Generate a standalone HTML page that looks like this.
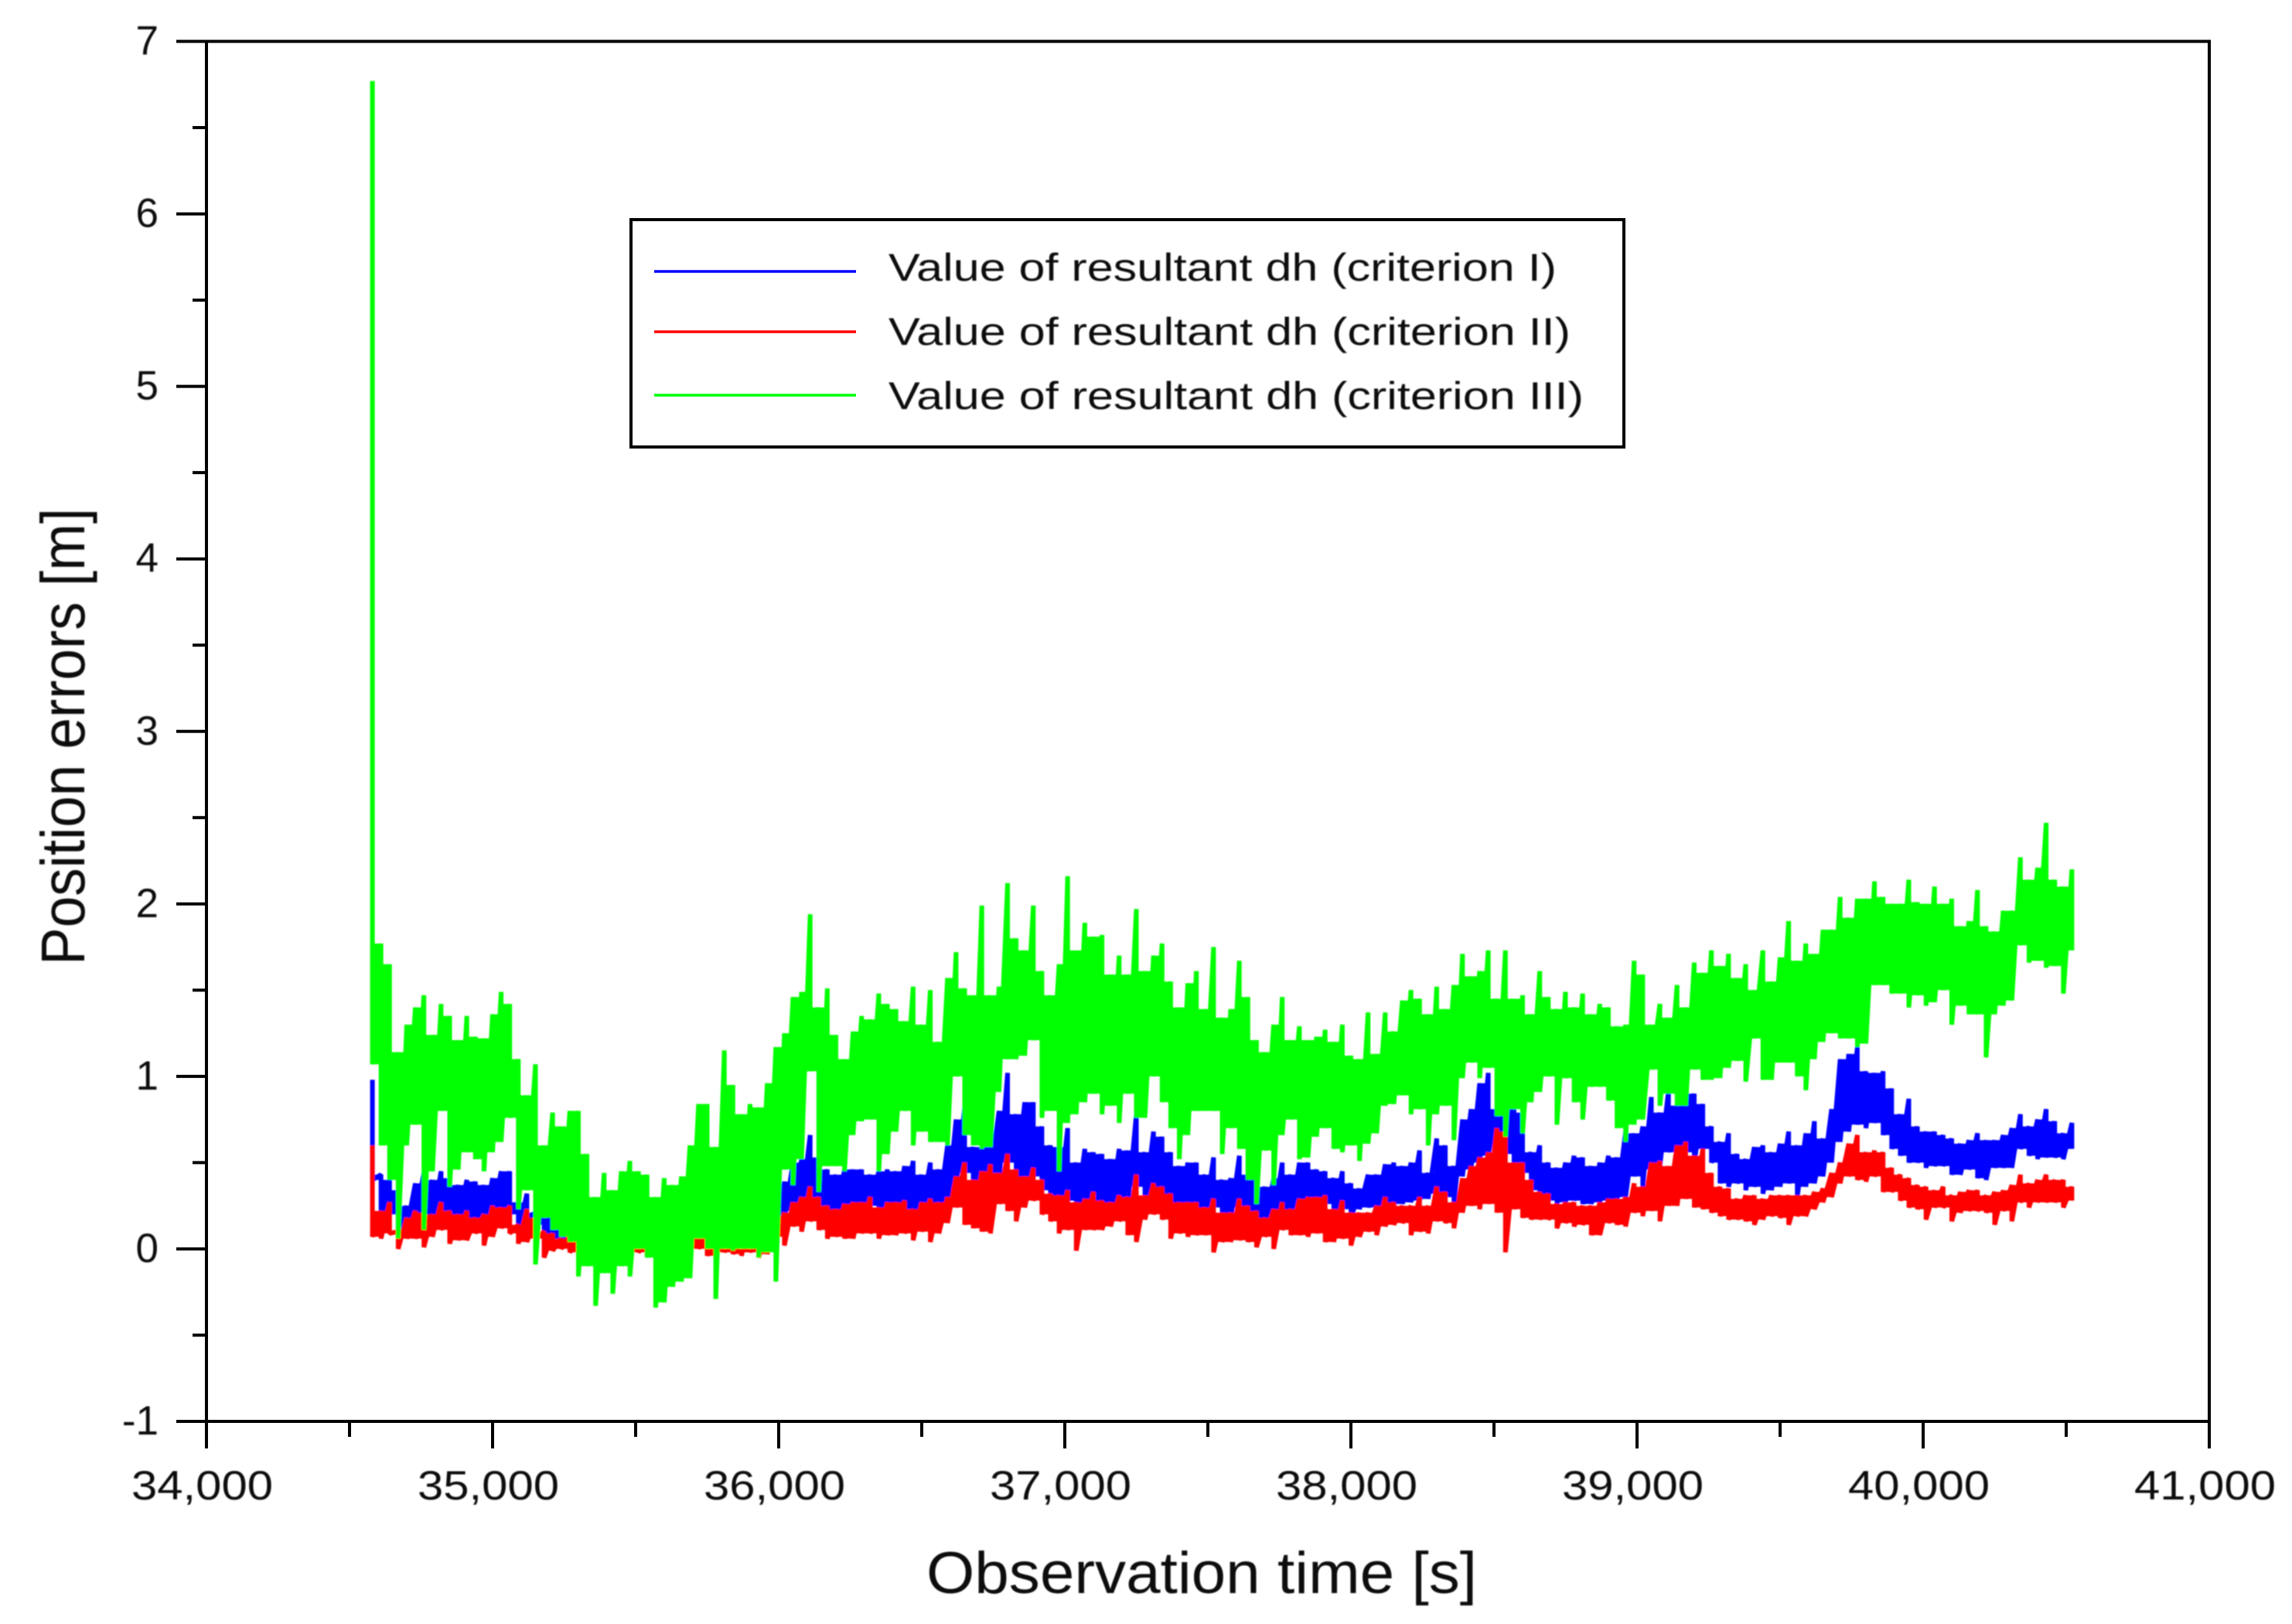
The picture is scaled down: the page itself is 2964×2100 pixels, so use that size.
<!DOCTYPE html>
<html lang="en">
<head>
<meta charset="utf-8">
<title>Position errors over observation time</title>
<style>
html,body{margin:0;padding:0;background:#fff;width:2964px;height:2100px;overflow:hidden}
svg{display:block}
text{font-family:"Liberation Sans",Arial,sans-serif;fill:#0a0a0a}
</style>
</head>
<body>
<svg id="chart" xmlns="http://www.w3.org/2000/svg" width="2964" height="2100" viewBox="0 0 2964 2100">
  <defs>
    <filter id="soft" x="-5%" y="-5%" width="110%" height="110%"><feGaussianBlur stdDeviation="0.8"/></filter>
    <filter id="softText" x="-5%" y="-5%" width="110%" height="110%"><feGaussianBlur stdDeviation="0.9"/></filter>
  </defs>
  <rect x="0" y="0" width="2964" height="2100" fill="#ffffff"/>
  <g id="series" filter="url(#soft)"></g>
  <g id="axes"></g>
  <g id="tickLabels" filter="url(#softText)"></g>
  <text x="1198" y="2060" font-size="76" textLength="712" lengthAdjust="spacingAndGlyphs" filter="url(#softText)">Observation time [s]</text>
  <text transform="translate(109,1248) rotate(-90)" x="0" y="0" font-size="80" textLength="591" lengthAdjust="spacingAndGlyphs" filter="url(#softText)">Position errors [m]</text>
  <g>
    <rect x="816" y="284" width="1284" height="294" fill="#ffffff" stroke="#000000" stroke-width="4"/>
    <line x1="846" y1="351" x2="1107" y2="351" stroke="#0000ff" stroke-width="3.5"/>
    <line x1="846" y1="429" x2="1107" y2="429" stroke="#ff0000" stroke-width="3.5"/>
    <line x1="846" y1="511" x2="1107" y2="511" stroke="#00ff00" stroke-width="3.5"/>
    <g filter="url(#softText)">
      <text x="1149" y="363" font-size="50" textLength="864" lengthAdjust="spacingAndGlyphs">Value of resultant dh (criterion I)</text>
      <text x="1149" y="446" font-size="50" textLength="882" lengthAdjust="spacingAndGlyphs">Value of resultant dh (criterion II)</text>
      <text x="1149" y="529" font-size="50" textLength="899" lengthAdjust="spacingAndGlyphs">Value of resultant dh (criterion III)</text>
    </g>
  </g>
</svg>
<script>
const xTickValues = [34000,35000,36000,37000,38000,39000,40000,41000];
const xTickLabels = ["34,000","35,000","36,000","37,000","38,000","39,000","40,000","41,000"];
const xMinorValues = [34500,35500,36500,37500,38500,39500,40500];
const yTickValues = [-1,0,1,2,3,4,5,6,7];
const yTickLabels = ["-1","0","1","2","3","4","5","6","7"];
const yMinorValues = [-0.5,0.5,1.5,2.5,3.5,4.5,5.5,6.5];
const sampleStart = 34580;
const sampleStep = 30;

const blueHigh = [
.98,.43,.40,.34,.25,.38,.44,.40,.45,.41,.37,.40,.39,.37,.41,.45,.45,.27,.32,.21,
.20,.25,.20,.22,.20,.18,.18,.17,.18,.20,.18,.17,.18,.17,.20,.18,.20,.22,.24,.24,
.20,.26,.24,.25,.30,.28,.30,.37,.39,.50,.52,.66,.53,.46,.43,.46,.46,.46,.43,.45,
.46,.45,.48,.51,.43,.50,.46,.60,.75,.82,.59,.59,.60,.80,1.02,.78,.85,.85,.71,.60,
.59,.70,.50,.58,.56,.55,.52,.58,.57,.78,.56,.68,.65,.56,.48,.50,.50,.43,.53,.40,
.41,.54,.43,.41,.36,.41,.50,.43,.50,.50,.46,.45,.41,.45,.38,.35,.43,.43,.49,.50,
.48,.50,.57,.44,.64,.60,.48,.75,.81,.96,1.02,.81,.80,.89,.79,.56,.60,.50,.47,.50,
.54,.53,.48,.50,.54,.53,.68,.67,.71,.88,.79,.92,.83,.94,.90,.84,.71,.62,.67,.55,
.52,.59,.60,.56,.61,.68,.60,.67,.74,.64,.81,1.10,1.13,1.17,1.03,1.02,1.03,.93,.78,.87,
.71,.68,.68,.66,.64,.61,.63,.67,.63,.63,.66,.70,.78,.71,.75,.81,.74,.67,.73];
const blueLow = [
.40,.16,.20,.08,.12,.18,.17,.16,.22,.18,.16,.18,.14,.16,.20,.20,.20,.10,.18,.14,
.06,.06,.04,.05,.03,.04,.02,.03,.04,.03,.02,.04,.03,.03,.05,.04,.07,.09,.12,.11,
.09,.11,.09,.08,.16,.09,.09,.14,.17,.22,.25,.30,.25,.20,.18,.21,.22,.22,.25,.20,
.22,.22,.23,.18,.22,.24,.22,.25,.36,.44,.34,.40,.44,.38,.50,.40,.36,.42,.34,.27,
.26,.28,.22,.24,.28,.23,.22,.26,.25,.36,.26,.32,.30,.26,.22,.22,.22,.19,.24,.17,
.17,.24,.20,.17,.14,.18,.22,.18,.24,.25,.25,.26,.19,.23,.17,.23,.24,.22,.25,.25,
.26,.27,.28,.29,.32,.30,.26,.42,.46,.50,.54,.62,.55,.50,.44,.34,.30,.28,.26,.27,
.28,.26,.26,.27,.28,.28,.30,.42,.36,.46,.48,.56,.52,.56,.50,.58,.50,.38,.36,.38,
.34,.36,.32,.34,.36,.38,.30,.36,.38,.42,.50,.62,.68,.72,.70,.73,.66,.58,.54,.50,
.50,.47,.48,.48,.43,.43,.46,.41,.40,.47,.47,.47,.58,.54,.52,.53,.53,.52,.58];
const redHigh = [
.60,.22,.27,.10,.18,.22,.21,.20,.27,.22,.20,.22,.18,.20,.25,.24,.25,.14,.23,.18,
.10,.09,.06,.08,.05,.06,.04,.05,.06,.05,.04,.06,.05,.05,.07,.06,.10,.12,.16,.15,
.12,.15,.13,.11,.21,.12,.12,.18,.21,.27,.30,.36,.30,.25,.23,.26,.27,.27,.30,.24,
.27,.27,.28,.23,.27,.29,.27,.30,.42,.50,.40,.45,.49,.44,.55,.46,.42,.47,.40,.32,
.31,.34,.27,.29,.33,.28,.27,.31,.30,.43,.31,.38,.36,.32,.27,.27,.27,.24,.29,.21,
.21,.29,.25,.22,.18,.23,.27,.23,.29,.30,.30,.31,.23,.28,.21,.21,.21,.25,.30,.27,
.25,.25,.30,.25,.36,.33,.27,.41,.48,.53,.56,.70,.68,.50,.50,.40,.33,.32,.26,.27,
.27,.25,.25,.27,.29,.29,.30,.38,.36,.50,.51,.48,.60,.62,.54,.58,.44,.36,.35,.29,
.31,.31,.29,.31,.31,.31,.31,.31,.33,.35,.44,.50,.61,.66,.56,.57,.56,.47,.43,.41,
.37,.36,.34,.36,.31,.33,.34,.34,.31,.33,.34,.37,.43,.38,.40,.43,.40,.40,.36];
const redLow = [
.07,.06,.09,.00,.06,.06,.01,.07,.11,.03,.05,.05,.09,.02,.07,.12,.09,.03,.04,.06,
-.05,-.01,.00,-.02,-.03,-.01,-.04,-.02,-.03,-.02,-.03,-.02,-.04,-.03,-.02,-.03,-.01,-.02,.00,-.04,
-.05,-.02,-.03,-.04,-.02,-.05,-.03,.07,.02,.13,.10,.16,.11,.06,.07,.06,.06,.09,.09,.06,
.08,.08,.09,.05,.10,.04,.09,.15,.24,.14,.12,.10,.09,.26,.22,.16,.24,.28,.20,.16,
.09,.11,-.01,.11,.11,.11,.13,.16,.08,.04,.17,.20,.17,.06,.09,.07,.08,.08,-.02,.04,
.04,.05,.04,.01,.07,.00,.11,.08,.08,.07,.09,.04,.04,.06,.02,.07,.10,.08,.13,.14,
.15,.08,.10,.09,.16,.15,.12,.21,.25,.23,.26,.21,-.02,.23,.18,.17,.17,.17,.12,.15,
.13,.14,.08,.08,.15,.14,.13,.21,.19,.22,.16,.25,.25,.29,.24,.23,.21,.19,.17,.17,
.16,.14,.17,.19,.18,.14,.19,.19,.23,.27,.30,.38,.42,.40,.39,.42,.33,.33,.28,.24,
.23,.17,.24,.24,.16,.21,.22,.22,.21,.14,.22,.16,.27,.24,.27,.27,.27,.24,.28];
const greenHigh = [
6.77,1.77,1.65,1.14,1.30,1.40,1.47,1.24,1.42,1.35,1.21,1.35,1.23,1.22,1.36,1.49,1.42,1.10,.89,1.07,
.60,.79,.71,.80,.80,.55,.30,.44,.34,.45,.51,.45,.43,.30,.41,.37,.42,.60,.84,.84,
.59,1.15,.95,.78,.84,.82,.96,1.17,1.25,1.46,1.49,1.94,1.40,1.51,1.24,1.10,1.26,1.35,1.33,1.48,
1.42,1.39,1.32,1.52,1.30,1.50,1.20,1.57,1.72,1.51,1.47,1.99,1.47,1.52,2.12,1.80,1.73,1.99,1.61,1.47,
1.65,2.16,1.73,1.89,1.81,1.82,1.59,1.70,1.59,1.97,1.61,1.70,1.77,1.55,1.40,1.54,1.61,1.39,1.75,1.34,
1.39,1.67,1.46,1.21,1.14,1.30,1.46,1.21,1.29,1.21,1.23,1.27,1.20,1.30,1.12,1.10,1.37,1.13,1.37,1.26,
1.44,1.50,1.45,1.36,1.52,1.39,1.53,1.71,1.58,1.61,1.73,1.45,1.73,1.45,1.47,1.36,1.61,1.46,1.39,1.49,
1.40,1.48,1.36,1.42,1.40,1.29,1.30,1.67,1.59,1.30,1.42,1.34,1.53,1.40,1.66,1.60,1.73,1.64,1.71,1.57,
1.65,1.50,1.73,1.55,1.69,1.90,1.67,1.77,1.71,1.85,1.85,2.04,1.92,2.03,2.03,2.13,2.04,2.00,2.00,2.14,
2.01,2.00,2.10,2.00,2.03,1.87,1.90,2.08,1.87,1.84,1.96,1.96,2.27,2.14,2.21,2.47,2.14,2.10,2.20];
const greenLow = [
1.07,.60,.40,.06,.60,.72,.11,.45,.80,.36,.46,.56,.52,.45,.56,.62,.76,.23,.34,-.09,
.18,.11,.07,.04,-.16,-.10,-.33,-.14,-.26,-.10,-.16,.00,-.05,-.34,-.31,-.22,-.19,-.17,.06,.00,
-.29,.00,-.01,.00,.00,-.05,-.02,-.19,.46,.37,.52,1.03,.33,.48,.48,.45,.66,.74,.75,.45,
.55,.68,.80,.60,.68,.62,.62,.60,1.00,.66,.60,.58,.59,.91,1.10,1.10,1.12,1.21,.76,.80,
.45,.73,.78,.85,.90,.78,.83,.73,.90,.76,.76,1.00,.85,.70,.52,.66,.80,.80,.80,.55,
.70,.58,.40,.26,.57,.37,.66,.75,.52,.53,.65,.70,.58,.56,.60,.51,.61,.67,.83,.84,
.89,.78,.81,.60,.78,.83,.63,.99,1.08,.99,1.05,.77,.65,.81,.67,.85,.91,1.00,.72,.99,
.85,.75,.94,.94,.86,.70,.62,.72,.75,1.04,.83,.90,.83,.83,1.04,.98,.98,.99,1.05,1.09,
.97,1.22,.98,.98,1.08,1.08,1.00,.92,1.10,1.20,1.25,1.22,1.22,1.17,1.19,1.53,1.53,1.48,1.48,1.40,
1.47,1.41,1.43,1.50,1.30,1.41,1.36,1.36,1.11,1.36,1.41,1.44,1.76,1.66,1.67,1.63,1.64,1.48,1.73];

const NS = "http://www.w3.org/2000/svg";
const plotLeft = 267, plotRight = 2857, plotTop = 53.5, plotBottom = 1838;
const xMin = 34000, xMax = 41000, yMin = -1, yMax = 7;
function xScale(v){ return plotLeft + (v - xMin) * (plotRight - plotLeft) / (xMax - xMin); }
function yScale(v){ return plotBottom - (v - yMin) * (plotBottom - plotTop) / (yMax - yMin); }

/* Vertical high/low sweep at each sample: the noise line itself. */
function bandPoints(high, low){
  const pts = [];
  for (let i = 0; i < high.length; i++){
    const x = xScale(sampleStart + i * sampleStep).toFixed(1);
    pts.push(x + "," + yScale(high[i]).toFixed(1));
    pts.push(x + "," + yScale(low[i]).toFixed(1));
  }
  return pts.join(" ");
}
/* Solid core between neighbouring samples: overlap of their high/low ranges. */
function corePath(high, low){
  let d = "";
  for (let i = 0; i < high.length - 1; i++){
    const top = Math.min(high[i], high[i + 1]);
    const bottom = Math.max(low[i], low[i + 1]);
    if (top <= bottom) continue;
    const x0 = xScale(sampleStart + i * sampleStep).toFixed(1);
    const x1 = xScale(sampleStart + (i + 1) * sampleStep).toFixed(1);
    const y0 = yScale(top).toFixed(1);
    const y1 = yScale(bottom).toFixed(1);
    d += "M" + x0 + " " + y0 + "H" + x1 + "V" + y1 + "H" + x0 + "Z";
  }
  return d;
}
function makeLine(parent, x1, y1, x2, y2, width){
  const el = document.createElementNS(NS, "line");
  el.setAttribute("x1", x1);
  el.setAttribute("y1", y1);
  el.setAttribute("x2", x2);
  el.setAttribute("y2", y2);
  el.setAttribute("stroke", "#000000");
  el.setAttribute("stroke-width", width);
  parent.appendChild(el);
  return el;
}

const seriesGroup = document.getElementById("series");
const axesGroup = document.getElementById("axes");
const labelGroup = document.getElementById("tickLabels");

const blueCore = document.createElementNS(NS, "path");


blueCore.setAttribute("d", corePath(blueHigh, blueLow));
blueCore.setAttribute("fill", "#0000ff");
seriesGroup.appendChild(blueCore);

const blueLine = document.createElementNS(NS, "polyline");


blueLine.setAttribute("points", bandPoints(blueHigh, blueLow));
blueLine.setAttribute("fill", "none");
blueLine.setAttribute("stroke", "#0000ff");
blueLine.setAttribute("stroke-width", "6");
blueLine.setAttribute("stroke-linejoin", "bevel");
seriesGroup.appendChild(blueLine);

const redCore = document.createElementNS(NS, "path");


redCore.setAttribute("d", corePath(redHigh, redLow));
redCore.setAttribute("fill", "#ff0000");
seriesGroup.appendChild(redCore);

const redLine = document.createElementNS(NS, "polyline");


redLine.setAttribute("points", bandPoints(redHigh, redLow));
redLine.setAttribute("fill", "none");
redLine.setAttribute("stroke", "#ff0000");
redLine.setAttribute("stroke-width", "6");
redLine.setAttribute("stroke-linejoin", "bevel");
seriesGroup.appendChild(redLine);

const greenCore = document.createElementNS(NS, "path");


greenCore.setAttribute("d", corePath(greenHigh, greenLow));
greenCore.setAttribute("fill", "#00ff00");
seriesGroup.appendChild(greenCore);

const greenLine = document.createElementNS(NS, "polyline");


greenLine.setAttribute("points", bandPoints(greenHigh, greenLow));
greenLine.setAttribute("fill", "none");
greenLine.setAttribute("stroke", "#00ff00");
greenLine.setAttribute("stroke-width", "6");
greenLine.setAttribute("stroke-linejoin", "bevel");
seriesGroup.appendChild(greenLine);

const leftAxis = makeLine(axesGroup, plotLeft, plotTop, plotLeft, plotBottom, 4);


const bottomAxis = makeLine(axesGroup, plotLeft, plotBottom, plotRight, plotBottom, 4);


const topFrame = makeLine(axesGroup, plotLeft, plotTop, plotRight + 2, plotTop, 4);


const rightFrame = makeLine(axesGroup, plotRight, plotTop, plotRight, plotBottom, 4);



xTickValues.forEach(function(v, i){
  const tick = makeLine(axesGroup, xScale(v), plotBottom, xScale(v), plotBottom + 35, 4);
  
  
  const label = document.createElementNS(NS, "text");
  
  
  label.setAttribute("x", xScale(v) - 97);
  label.setAttribute("y", 1939);
  label.setAttribute("font-size", "53");
  label.setAttribute("textLength", "183");
  label.setAttribute("lengthAdjust", "spacingAndGlyphs");
  label.textContent = xTickLabels[i];
  labelGroup.appendChild(label);
});
xMinorValues.forEach(function(v){
  const tick = makeLine(axesGroup, xScale(v), plotBottom, xScale(v), plotBottom + 20, 4);
  
  
});
yTickValues.forEach(function(v, i){
  const tick = makeLine(axesGroup, plotLeft - 39, yScale(v), plotLeft, yScale(v), 4);
  
  
  const label = document.createElementNS(NS, "text");
  
  
  label.setAttribute("x", 205);
  label.setAttribute("y", yScale(v) + 17);
  label.setAttribute("font-size", "53");
  label.setAttribute("text-anchor", "end");
  label.textContent = yTickLabels[i];
  labelGroup.appendChild(label);
});
yMinorValues.forEach(function(v){
  const tick = makeLine(axesGroup, plotLeft - 18, yScale(v), plotLeft, yScale(v), 4);
  
  
});
</script>
</body>
</html>
